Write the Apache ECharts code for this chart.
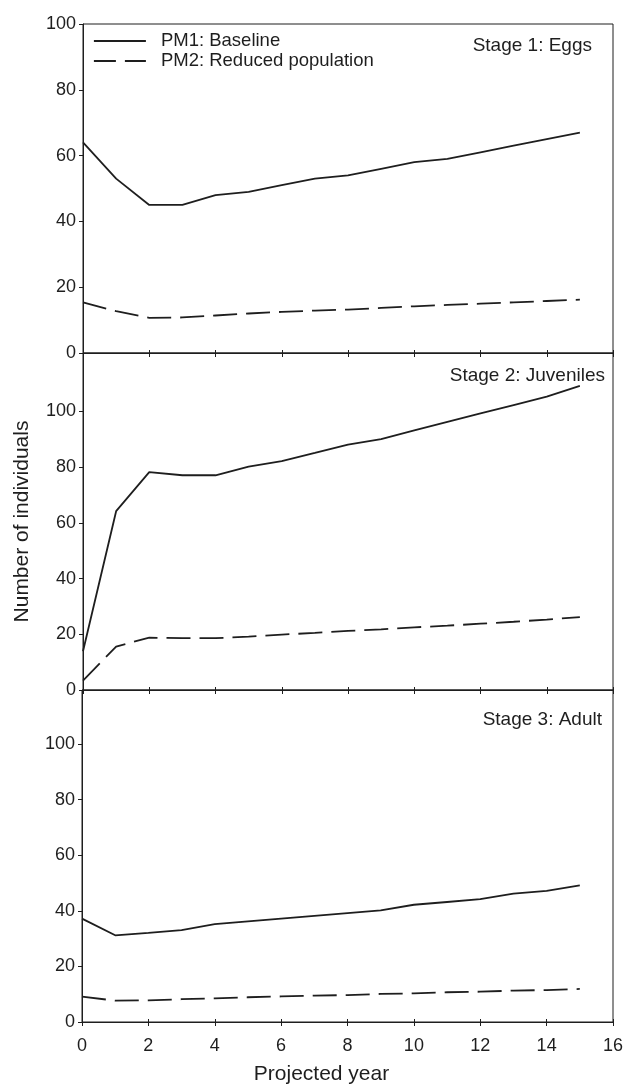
<!DOCTYPE html>
<html>
<head>
<meta charset="utf-8">
<script src="https://cdn.jsdelivr.net/npm/echarts@6/dist/echarts.min.js"></script>
<style>html,body{margin:0;padding:0;background:#fff;}#c{width:625px;height:1084px;}</style>
</head>
<body>
<div id="c"></div>
<script>
const years = [0,1,2,3,4,5,6,7,8,9,10,11,12,13,14,15];
const eggsBaseline  = [64,53,45,45,48,49,51,53,54,56,58,59,61,63,65,67];
const eggsReduced   = [15.4,12.7,10.7,10.8,11.4,12,12.5,12.9,13.2,13.7,14.2,14.6,15,15.4,15.8,16.2];
const juvBaseline   = [13.9,64.2,78.2,77.1,77.1,80.2,82.2,85.1,88.1,90.1,93.2,96.3,99.3,102.3,105.3,109.2];
const juvReduced    = [3.4,15.6,18.8,18.6,18.6,19.2,19.9,20.5,21.2,21.8,22.5,23.1,23.8,24.5,25.3,26.2];
const adultBaseline = [37.2,31.2,32.1,33.1,35.2,36.2,37.2,38.2,39.2,40.2,42.2,43.2,44.2,46.2,47.2,49.2];
const adultReduced  = [9.1,7.7,7.8,8.2,8.5,8.9,9.2,9.5,9.7,10.1,10.3,10.7,10.9,11.3,11.5,11.9];
const xTicks = [0,2,4,6,8,10,12,14,16];
const yTicks = [0,20,40,60,80,100];
const seriesNames = ['PM1: Baseline','PM2: Reduced population'];
const stageLabels = ['Stage 1: Eggs','Stage 2: Juveniles','Stage 3: Adult'];

const FONT = 'Liberation Sans, Arial, Helvetica, sans-serif';
const INK = '#1e1e1e';
const chart = echarts.init(document.getElementById('c'), null, {renderer:'canvas'});

const grids = [
  {left:83, right:12, top:24, height:329},
  {left:83, right:12, top:353, height:337},
  {left:82, right:12, top:690, height:332}
];
const yMax = [100, 121, 119.5];
const panels = [[eggsBaseline, eggsReduced],[juvBaseline, juvReduced],[adultBaseline, adultReduced]];
const DASH = [24, 9];

const xAxes = [], yAxes = [], series = [];
grids.forEach((g, i) => {
  g.show = true; g.borderColor = INK; g.borderWidth = 1; g.containLabel = false; g.outerBoundsMode = 'none';
  const last = i === 2;
  xAxes.push({
    type:'value', gridIndex:i, min:xTicks[0], max:xTicks[xTicks.length-1], interval:2,
    axisLine:{show:true, onZero:false, lineStyle:{color:INK, width:1}},
    axisTick:{show:true, inside:false, length:4, lineStyle:{color:INK}},
    axisLabel:{show:last, color:INK, fontFamily:FONT, fontSize:18, margin:15},
    splitLine:{show:false},
    name: last ? 'Projected year' : '', nameLocation:'middle', nameGap:42,
    nameTextStyle:{color:INK, fontFamily:FONT, fontSize:21, padding:[0,52,0,0]}
  });
  xAxes.push({
    type:'value', gridIndex:i, min:0, max:16, interval:2, position:'bottom',
    axisLine:{show:false, onZero:false}, axisTick:{show:true, inside:true, length:3, lineStyle:{color:INK}},
    axisLabel:{show:false}, splitLine:{show:false}
  });
  yAxes.push({
    type:'value', gridIndex:i, min:0, max:yMax[i], interval:20,
    axisLine:{show:true, onZero:false, lineStyle:{color:INK, width:1}},
    axisTick:{show:true, inside:false, length:4, lineStyle:{color:INK}, customValues:yTicks},
    axisLabel:{show:true, color:INK, fontFamily:FONT, fontSize:18, margin:7, customValues:yTicks},
    splitLine:{show:false},
    name: i === 1 ? 'Number of individuals' : '', nameLocation:'middle', nameGap:50,
    nameTextStyle:{color:INK, fontFamily:FONT, fontSize:21}
  });
  panels[i].forEach((vals, k) => {
    series.push({
      name: seriesNames[k], type:'line', xAxisIndex:i*2, yAxisIndex:i,
      data: years.map((y, j) => [y, vals[j]]),
      symbol:'none', smooth:false, silent:true, animation:false,
      lineStyle:{color:INK, width:1.8, type: k === 0 ? 'solid' : DASH},
      itemStyle:{color:INK}
    });
  });
});

chart.setOption({
  backgroundColor:'#fff',
  animation:false,
  grid: grids,
  xAxis: xAxes,
  yAxis: yAxes,
  series: series,
  legend:{
    data: [
      {name:seriesNames[0], itemStyle:{opacity:0}, lineStyle:{type:'solid', width:1.8, color:INK}},
      {name:seriesNames[1], itemStyle:{opacity:0}, lineStyle:{type:[22,9], width:1.8, color:INK}}
    ],
    orient:'vertical', left:88, top:26.5, itemWidth:52, itemHeight:14, itemGap:1,
    itemStyle:{opacity:0},
    textStyle:{color:INK, fontFamily:FONT, fontSize:18.5, padding:[0,0,0,10]},
    selectedMode:false
  },
  title: [
    {text:stageLabels[0], right:28, top:31, textStyle:{color:INK, fontFamily:FONT, fontSize:19, fontWeight:'normal'}},
    {text:stageLabels[1], right:15, top:361, textStyle:{color:INK, fontFamily:FONT, fontSize:19, fontWeight:'normal'}},
    {text:stageLabels[2], right:18, top:705, textStyle:{color:INK, fontFamily:FONT, fontSize:19, fontWeight:'normal'}}
  ]
});
</script>
</body>
</html>
